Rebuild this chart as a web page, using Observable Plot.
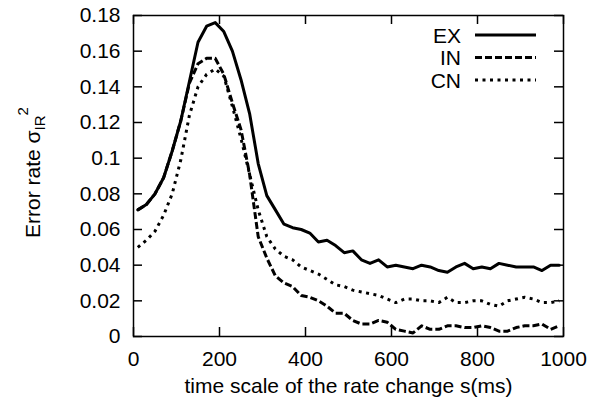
<!DOCTYPE html>
<html><head><meta charset="utf-8">
<script src="https://cdn.jsdelivr.net/npm/d3@7"></script>
<script src="https://cdn.jsdelivr.net/npm/@observablehq/plot@0.6"></script>
<style>body{margin:0;background:#fff}</style>
</head><body><div id="chart"></div>
<script>
// ---- data ----
const xs = [10,30,50,70,90,110,130,150,170,190,210,230,250,270,290,310,330,350,370,390,410,430,450,470,490,510,530,550,570,590,610,630,650,670,690,710,730,750,770,790,810,830,850,870,890,910,930,950,970,990];
const EX = [0.071,0.074,0.080,0.089,0.104,0.121,0.143,0.165,0.174,0.176,0.171,0.160,0.144,0.125,0.097,0.079,0.071,0.063,0.061,0.060,0.058,0.053,0.054,0.051,0.047,0.048,0.043,0.041,0.043,0.039,0.040,0.039,0.038,0.040,0.039,0.037,0.036,0.039,0.041,0.038,0.039,0.038,0.041,0.040,0.039,0.039,0.039,0.037,0.040,0.040];
const IN = [0.071,0.074,0.080,0.089,0.104,0.121,0.142,0.153,0.156,0.156,0.147,0.131,0.116,0.091,0.056,0.044,0.034,0.030,0.028,0.023,0.022,0.020,0.017,0.013,0.013,0.009,0.007,0.007,0.009,0.008,0.004,0.003,0.002,0.006,0.004,0.004,0.006,0.006,0.005,0.005,0.006,0.005,0.003,0.003,0.005,0.006,0.006,0.007,0.004,0.006];
const CN = [0.050,0.054,0.059,0.068,0.080,0.099,0.124,0.140,0.147,0.150,0.146,0.129,0.111,0.091,0.071,0.056,0.049,0.045,0.043,0.039,0.037,0.035,0.032,0.029,0.028,0.026,0.025,0.024,0.023,0.021,0.019,0.021,0.021,0.020,0.020,0.019,0.022,0.019,0.019,0.020,0.020,0.018,0.017,0.020,0.021,0.022,0.021,0.019,0.019,0.020];
const seriesNames = ["EX", "IN", "CN"];
const xTicks = [0, 200, 400, 600, 800, 1000];
const yTicks = [0, 0.02, 0.04, 0.06, 0.08, 0.1, 0.12, 0.14, 0.16, 0.18];
const xLabel = "time scale of the rate change s(ms)";
const yLabel = "Error rate σ";
const ySub = "IR";
const ySup = "2";

// ---- layout / style ----
const W = 609, H = 405, mL = 133, mR = 46, mT = 15, mB = 69;
const iw = W - mL - mR, ih = H - mT - mB;
const font = "'Liberation Sans', Arial, Helvetica, sans-serif";
const dashes = {EX: null, IN: "7,3", CN: "3,4.5"};
const valuesBy = {EX, IN, CN};
const rows = name => xs.map((x, i) => ({x, y: valuesBy[name][i]}));

function legendMark(index, scales, values, dims) {
  const g = d3.create("svg:g");
  const xr = dims.width - dims.marginRight;
  seriesNames.forEach((name, i) => {
    const y = dims.marginTop + 20 + i * 22.5;
    g.append("text").attr("x", xr - 102).attr("y", y).attr("dy", "0.36em")
      .attr("text-anchor", "end").attr("fill", "black").text(name);
    const ln = g.append("line").attr("x1", xr - 88).attr("x2", xr - 27)
      .attr("y1", y).attr("y2", y).attr("stroke", "black").attr("stroke-width", 3);
    if (dashes[name]) ln.attr("stroke-dasharray", dashes[name]);
  });
  return g.node();
}

function yLabelMark(index, scales, values, dims) {
  const cy = dims.marginTop + (dims.height - dims.marginTop - dims.marginBottom) / 2 - 3;
  const t = d3.create("svg:text")
    .attr("transform", `translate(${dims.marginLeft - 93},${cy}) rotate(-90)`)
    .attr("text-anchor", "middle").attr("fill", "black");
  t.append("tspan").text(yLabel);
  t.append("tspan").attr("dy", "5").attr("font-size", "15px").text(ySub);
  t.append("tspan").attr("dy", "-17").attr("font-size", "15px").text(ySup);
  return t.node();
}

const svg = Plot.plot({
  width: W, height: H,
  marginLeft: mL, marginRight: mR, marginTop: mT, marginBottom: mB,
  style: {fontFamily: font, fontSize: "21px", background: "white", color: "black"},
  x: {domain: [0, 1000], label: null},
  y: {domain: [0, 0.18], label: null},
  marks: [
    Plot.line(rows("CN"), {x: "x", y: "y", stroke: "black", strokeWidth: 3, strokeDasharray: dashes.CN, strokeLinecap: "butt"}),
    Plot.line(rows("IN"), {x: "x", y: "y", stroke: "black", strokeWidth: 3, strokeDasharray: dashes.IN, strokeLinecap: "butt"}),
    Plot.line(rows("EX"), {x: "x", y: "y", stroke: "black", strokeWidth: 3}),
    Plot.tickY(yTicks, {y: d => d, insetRight: iw - 9, stroke: "black", strokeWidth: 1.5}),
    Plot.tickY(yTicks, {y: d => d, insetLeft: iw - 9, stroke: "black", strokeWidth: 1.5}),
    Plot.tickX(xTicks, {x: d => d, insetTop: ih - 9, stroke: "black", strokeWidth: 1.5}),
    Plot.tickX(xTicks, {x: d => d, insetBottom: ih - 9, stroke: "black", strokeWidth: 1.5}),
    Plot.frame({stroke: "black", strokeWidth: 1.5}),
    Plot.axisY({ticks: yTicks, tickSize: 0, tickPadding: 13, tickFormat: d3.format("~g"), label: null}),
    Plot.axisX({ticks: xTicks, tickSize: 0, tickPadding: 15, tickFormat: d3.format("d"), label: null}),
    Plot.text([xLabel], {text: d => d, frameAnchor: "bottom", dy: 56, fill: "black"}),
    yLabelMark,
    legendMark
  ]
});

document.getElementById("chart").appendChild(svg);
</script>
</body></html>
